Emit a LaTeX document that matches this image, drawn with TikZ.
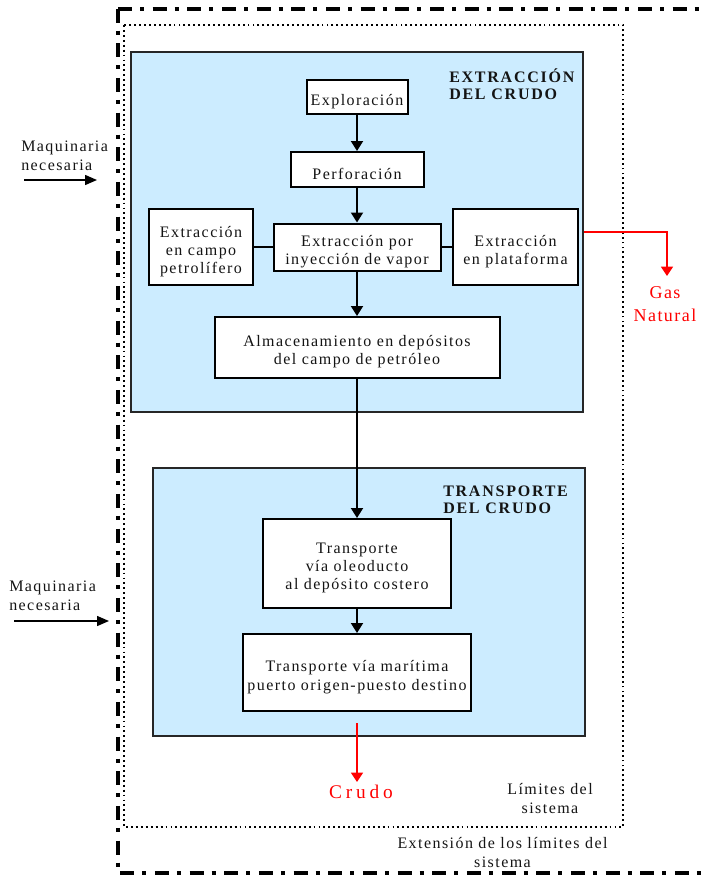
\documentclass[tikz,border=0pt]{standalone}
\usepackage{fontspec}
\setmainfont{Liberation Serif}
\newfontfamily\nodefont{Liberation Serif}[LetterSpace=9]
\newfontfamily\titlefont{Liberation Serif}[LetterSpace=11]
\newfontfamily\gasfont{Liberation Serif}[LetterSpace=8]
\newfontfamily\crudofont{Liberation Serif}[LetterSpace=20]
\usetikzlibrary{arrows.meta}
\definecolor{lblue}{RGB}{204,236,255}
\definecolor{txt}{RGB}{20,20,20}
\newcommand{\topstrut}{\rule{0pt}{15pt}}
\begin{document}
\begin{tikzpicture}[x=0.75pt,y=-0.75pt,
  sz/.style 2 args={minimum width=#1*0.75pt, minimum height=#2*0.75pt},
  stepnode/.style={draw=black, line width=1.5pt, fill=white, inner sep=0pt, align=center,
    font={\nodefont\fontsize{12pt}{13.6pt}\selectfont}, text=txt},
  area/.style={draw=black!85, line width=1.1pt, fill=lblue, inner sep=0pt},
  flow/.style={line width=1.5pt, -{Triangle[width=9pt,length=7.5pt]}},
  inflow/.style={line width=1.1pt, -{Triangle[width=7.5pt,length=9pt]}},
  redflow/.style={draw=red, line width=1.2pt, -{Triangle[width=9pt,length=7pt]}},
  lbl/.style={inner sep=0pt, font={\nodefont\fontsize{12pt}{14pt}\selectfont}, text=txt},
  titlelbl/.style={inner sep=0pt, align=left, font={\titlefont\bfseries\fontsize{12pt}{12.75pt}\selectfont}, text=txt},
  redlbl/.style={inner sep=0pt, align=center, text=red}
]
\useasboundingbox (0,0) rectangle (703,875);

% system boundaries
\draw[line width=3pt, dash pattern=on 10.5pt off 6pt on 3pt off 6.5pt] (118,8.5) -- (118,873) -- (720,873);
\draw[line width=3pt, dash pattern=on 10.5pt off 6pt on 3pt off 6.5pt] (118,8.5) -- (720,8.5);
\draw[line width=1.5pt, dash pattern=on 1.4pt off 2.3pt] (124,25) rectangle (623,827);

% areas
\node[area, sz={452}{360}] (extr) at (357,232) {};
\node[area, sz={432}{268}] (transp) at (369,602) {};

\node[titlelbl, anchor=north west] (t1) at (449,68.5) {EXTRACCIÓN\\DEL CRUDO};
\node[titlelbl, anchor=north west] (t2) at (443,486) {TRANSPORTE\\DEL CRUDO};

% process boxes
\node[stepnode, sz={101}{34}] (expl) at (357,97) {\topstrut Exploración};
\node[stepnode, sz={133}{35}] (perf) at (357,169.5) {\topstrut Perforación};
\node[stepnode, sz={167}{47}] (iny) at (357,247) {\topstrut Extracción por\\inyección de vapor};
\node[stepnode, sz={104}{76}] (campo) at (201,247) {\topstrut Extracción\\en campo\\petrolífero};
\node[stepnode, sz={125}{76}] (plat) at (515.5,247) {\topstrut Extracción\\en plataforma};
\node[stepnode, sz={285}{61}] (alm) at (357,347.5) {\topstrut Almacenamiento en depósitos\\del campo de petróleo};
\node[stepnode, sz={188}{89}] (oleo) at (357,563.5) {\topstrut Transporte\\vía oleoducto\\al depósito costero};
\node[stepnode, sz={228}{77}] (mar) at (357,672.5) {\topstrut Transporte vía marítima\\[1pt]puerto origen-puesto destino};

% connectors
\draw[flow] (expl) -- (perf);
\draw[flow] (perf) -- (iny);
\draw[flow] (iny) -- (alm);
\draw[flow] (alm) -- (oleo);
\draw[flow] (oleo) -- (mar);
\draw[line width=1.5pt] (campo) -- (iny);
\draw[line width=1.5pt] (iny) -- (plat);

% inputs
\node[lbl, align=left, anchor=north west] (maq1) at (21,141) {Maquinaria\\necesaria};
\coordinate (m1s) at (24,180);
\coordinate (m1e) at (97,180);
\draw[inflow] (m1s) -- (m1e);
\node[lbl, align=left, anchor=north west] (maq2) at (9,580.5) {Maquinaria\\necesaria};
\coordinate (m2s) at (14,621);
\coordinate (m2e) at (109,621);
\draw[inflow] (m2s) -- (m2e);

% outputs
\coordinate (gasend) at (667,276);
\draw[redflow] (extr.east) -| (gasend);
\node[redlbl, anchor=north, font={\gasfont\fontsize{13.5pt}{17.5pt}\selectfont}] (gas) at (665,286) {Gas\\Natural};
\coordinate (cs) at (357,723);
\coordinate (ce) at (357,782);
\draw[redflow] (cs) -- (ce);
\node[redlbl, anchor=north, font={\crudofont\fontsize{14.5pt}{17pt}\selectfont}] (crudo) at (361,785) {Crudo};

% boundary labels
\node[lbl, align=center, anchor=north] (lim) at (550,783) {Límites del\\sistema};
\node[lbl, align=center, anchor=north] (ext) at (502.5,837) {Extensión de los límites del\\sistema};
\end{tikzpicture}
\end{document}
